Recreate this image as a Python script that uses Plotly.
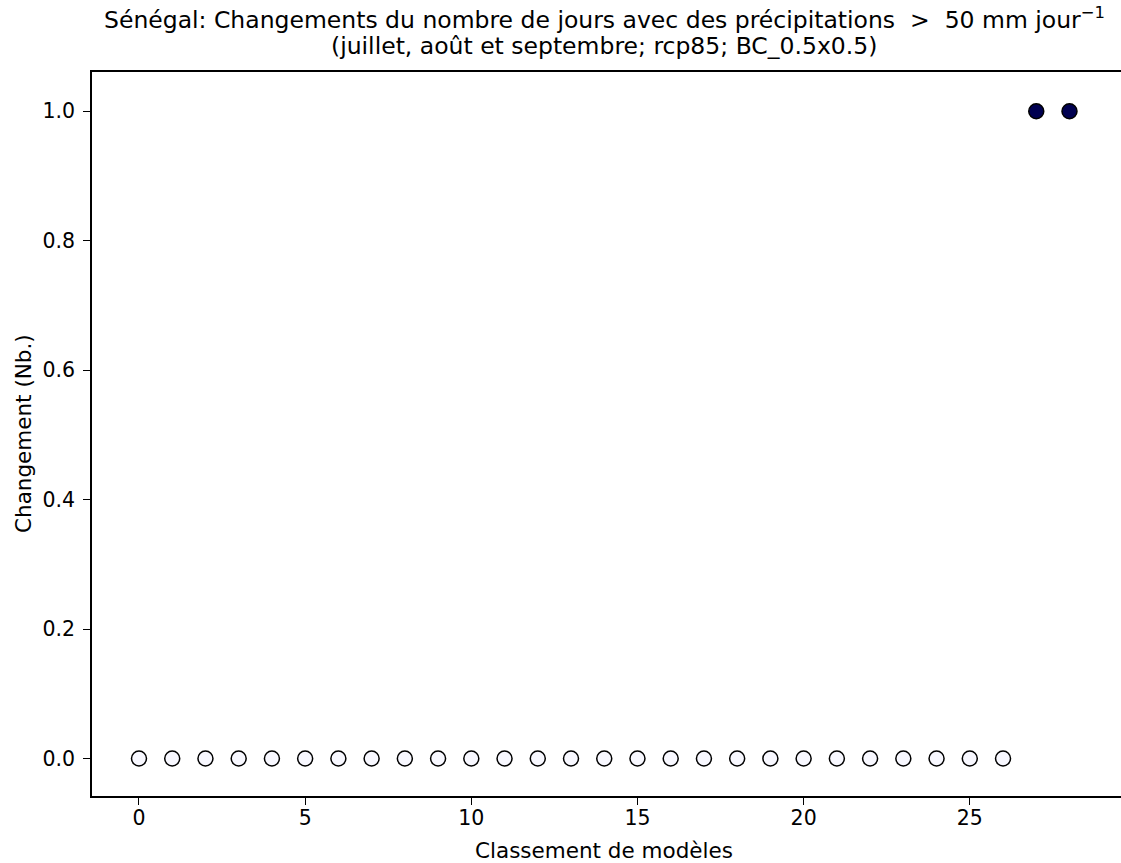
import plotly.graph_objects as go

# Model ranking and change in number of days with heavy precipitation
rank = list(range(29))
change = [0] * 27 + [1, 1]
fill_colors = ["#f8f8ff"] * 27 + ["#000050", "#000050"]

x_ticks = [0, 5, 10, 15, 20, 25]
y_ticks = [0.0, 0.2, 0.4, 0.6, 0.8, 1.0]

FONT = "DejaVu Sans"
W, H = 1121, 863
L, R, T, B = 92, 0, 72, 67

title_1 = ("Sénégal: Changements du nombre de jours avec des précipitations"
           "&nbsp;&nbsp;>&nbsp;&nbsp;50 mm jour<sup>−1</sup>")
title_2 = "(juillet, août et septembre; rcp85; BC_0.5x0.5)"

fig = go.Figure()
fig.add_trace(go.Scatter(
    x=rank, y=change, mode="markers",
    marker=dict(size=15, color=fill_colors, line=dict(color="black", width=1.5)),
    showlegend=False,
))


def py(pixel_y):
    """Convert a pixel row to paper coordinates."""
    return (H - B - pixel_y) / (H - T - B)


def px(pixel_x):
    return (pixel_x - L) / (W - L - R)


annotations = [
    dict(text=title_1, x=px(604), y=py(19), font=dict(size=23.5)),
    dict(text=title_2, x=px(604), y=py(46), font=dict(size=23.5)),
    dict(text="Classement de modèles", x=px(604), y=py(850), font=dict(size=21.5)),
    dict(text="Changement (Nb.)", x=px(23), y=py(434), textangle=-90, font=dict(size=21.5)),
]
for a in annotations:
    a.update(xref="paper", yref="paper", showarrow=False,
             xanchor="center", yanchor="middle")

fig.update_layout(
    width=W, height=H,
    margin=dict(l=L, r=R, t=T, b=B),
    paper_bgcolor="white", plot_bgcolor="white",
    font=dict(family=FONT, size=20, color="black"),
    annotations=annotations,
)

fig.update_xaxes(
    range=[-1.414, 29.55], tickvals=x_ticks, ticktext=[str(v) for v in x_ticks],
    showgrid=False, zeroline=False,
    showline=True, linecolor="black", linewidth=1.5, mirror=True,
    ticks="outside", ticklen=7, tickwidth=1.2, tickcolor="black",
    tickfont=dict(size=20.5), ticklabelstandoff=-4,
)
fig.update_yaxes(
    range=[-0.058, 1.0606], tickvals=y_ticks, ticktext=[f"{v:.1f}" for v in y_ticks],
    showgrid=False, zeroline=False,
    showline=True, linecolor="black", linewidth=1.5, mirror=False,
    ticks="outside", ticklen=7, tickwidth=1.2, tickcolor="black",
    tickfont=dict(size=20.5), ticklabelstandoff=4,
)

fig.write_html("out.html")
